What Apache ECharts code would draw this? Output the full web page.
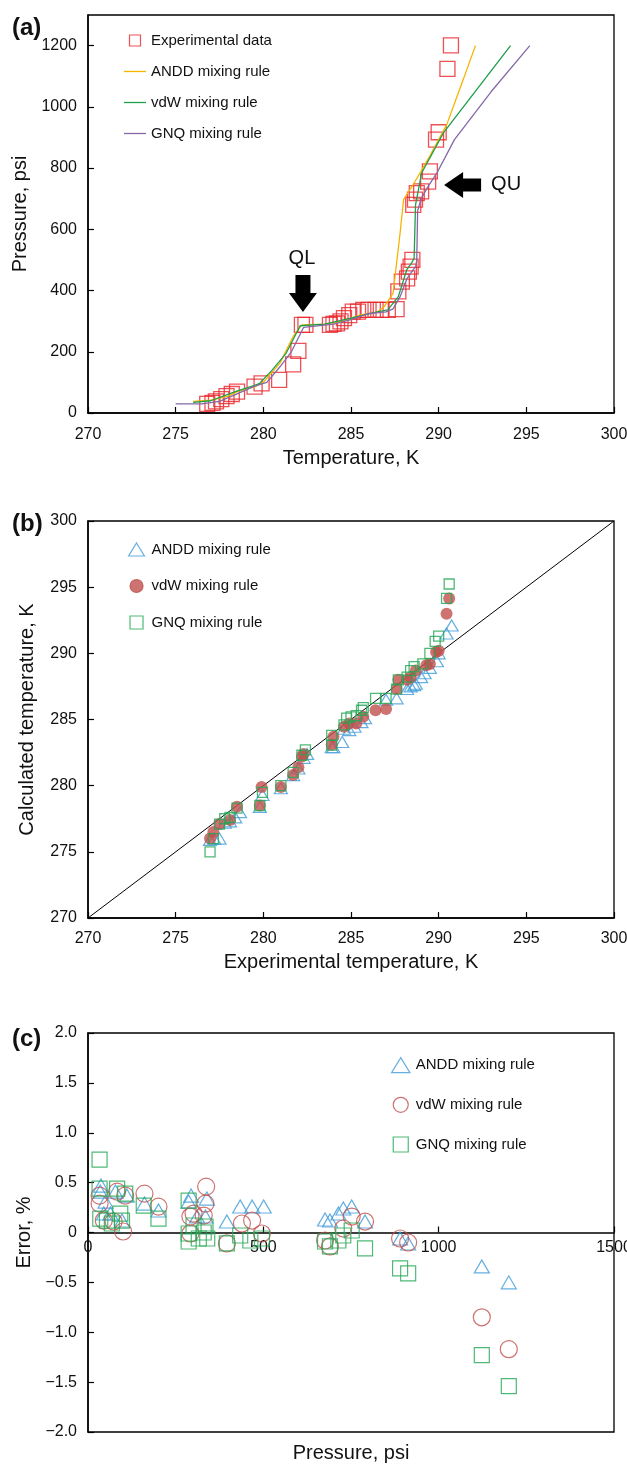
<!DOCTYPE html>
<html><head><meta charset="utf-8">
<script src="https://cdn.jsdelivr.net/npm/echarts@6/dist/echarts.min.js"></script>
<style>html,body{margin:0;padding:0;background:#fff;}.c{position:absolute;left:0;width:627px;}</style>
</head><body>
<div id="pa" class="c" style="top:0;height:470px"></div>
<div id="pb" class="c" style="top:470px;height:530px"></div>
<div id="pc" class="c" style="top:1000px;height:464px"></div>
<script>
// ---------- Panel (a): P-T equilibrium ----------
var expT = [276.8,277.1,277.3,277.6,277.9,278.2,278.5,279.5,279.9,280.9,281.7,282.0,282.2,282.4,283.8,284.0,284.2,284.4,284.6,284.9,285.1,285.4,285.7,286.0,286.4,286.7,287.1,287.6,287.7,287.9,288.2,288.3,288.4,288.5,288.55,288.65,288.75,289.0,289.4,289.5,289.85,290.0,290.5,290.7];
var expP = [30,33,38,45,55,62,70,86,97,108,159,203,288,288,288,291,293,299,310,320,331,331,337,337,337,337,337,339,397,429,440,462,478,500,680,697,718,724,756,789,893,917,1124,1201];
var anddT = [276,277,278,278.5,279.5,280,280.95,281.7,282.2,283.5,284.5,285.5,286.5,286.9,287.4,287.8,288.0,288.65,289.5,290.46,291.4,292.1];
var anddP = [38,42,55,70,85,100,163,250,288,290,300,320,330,348,391,588,697,756,840,942,1089,1200];
var vdwT = [276,277,278.4,279.5,279.8,280.5,281.3,282.1,283.5,285,286.5,287.1,287.7,288.18,288.46,288.6,288.68,289.03,290.27,294.1];
var vdwP = [35,40,70,90,97,140,195,285,290,310,330,337,380,468,490,505,680,784,915,1200];
var gnqT = [275,276.5,277.5,278.4,279.5,280.2,280.95,281.6,282.3,284,285,286,287,287.4,287.8,288.2,288.7,288.75,288.8,289.0,289.4,289.9,290.9,293,295.2];
var gnqP = [30,30,38,60,88,100,151,200,280,290,305,325,330,340,380,440,480,500,660,700,740,784,893,1050,1200];

// ---------- Panel (b): calculated vs experimental temperature ----------
var anddB = [[276.96,275.9],[277.2,276.0],[277.5,276.0],[277.8,277.2],[278.1,277.3],[278.4,277.6],[278.67,278.0],[279.8,278.4],[279.95,279.3],[281.0,279.8],[281.7,280.8],[282.0,281.3],[282.3,282.1],[282.5,282.4],[283.9,282.9],[284.0,282.9],[284.5,283.3],[284.6,284.3],[284.9,284.2],[285.2,284.45],[285.6,284.8],[285.8,285.1],[287.0,286.5],[287.6,286.6],[288.2,287.3],[288.4,287.5],[288.6,287.6],[288.7,287.7],[289.0,288.2],[289.2,288.5],[289.5,288.9],[289.9,289.4],[290.0,290.0],[290.45,291.5],[290.74,292.1]];
var vdwB = [[276.96,276.0],[277.15,276.5],[277.5,277.1],[278.1,277.4],[278.5,278.4],[279.8,278.5],[279.9,279.9],[281.0,279.9],[281.7,280.8],[282.0,281.4],[282.2,282.2],[282.3,282.4],[283.9,283.1],[284.0,283.7],[284.6,284.45],[284.9,284.7],[285.3,284.7],[285.7,285.2],[286.4,285.7],[287.0,285.8],[287.6,287.3],[287.7,288.0],[288.2,288.0],[288.4,288.2],[288.7,288.7],[289.3,289.1],[289.5,289.2],[289.85,290.1],[290.0,290.2],[290.45,293.0],[290.6,294.15]];
var gnqB = [[276.96,275.0],[277.15,276.0],[277.5,277.1],[277.8,277.5],[278.1,277.6],[278.5,278.3],[279.8,278.5],[279.95,279.5],[281.0,280.0],[281.7,281.0],[282.2,282.3],[282.4,282.7],[283.9,283.06],[283.9,283.8],[284.6,284.6],[284.75,285.1],[285.0,285.2],[285.3,285.3],[285.6,285.7],[285.7,285.9],[286.4,286.6],[287.0,286.6],[287.6,287.3],[287.7,288.0],[288.2,288.2],[288.4,288.7],[288.6,289.0],[289.1,289.2],[289.5,290.0],[289.8,290.9],[290.0,291.3],[290.45,294.15],[290.6,295.24]];
var diagLine = [[270,270],[300,300]];

// ---------- Panel (c): error vs pressure ----------
var anddC = [[37,0.47],[35,0.41],[78,0.41],[111,0.37],[50,0.31],[45,0.19],[64,0.19],[97,0.12],[161,0.29],[201,0.22],[294,0.37],[287,0.31],[311,0.16],[339,0.34],[335,0.16],[396,0.11],[434,0.26],[468,0.26],[501,0.26],[676,0.13],[690,0.12],[714,0.19],[728,0.24],[752,0.26],[790,0.11],[890,-0.06],[913,-0.11],[1123,-0.34],[1200,-0.50]];
var vdwC = [[33,0.37],[33,0.29],[83,0.41],[106,0.37],[45,0.12],[73,0.11],[100,0.01],[161,0.39],[201,0.26],[292,0.16],[301,0.19],[292,-0.01],[337,0.46],[335,0.29],[330,0.17],[396,-0.11],[439,0.09],[468,0.12],[496,-0.01],[676,-0.08],[690,-0.14],[728,0.04],[752,0.16],[790,0.11],[890,-0.06],[913,-0.10],[1123,-0.85],[1200,-1.17]];
var gnqC = [[33,0.73],[33,0.44],[83,0.44],[106,0.39],[35,0.14],[54,0.12],[68,0.09],[92,0.19],[97,0.12],[159,0.27],[201,0.14],[287,0.32],[287,-0.01],[287,-0.09],[301,0.07],[316,-0.06],[330,0.0],[335,0.06],[340,-0.06],[396,-0.11],[434,-0.03],[463,-0.08],[496,-0.06],[676,-0.09],[690,-0.14],[714,-0.08],[728,-0.03],[752,0.02],[790,-0.16],[890,-0.36],[913,-0.41],[1123,-1.23],[1200,-1.54]];

var tempTicks = {min:270, max:300, interval:5};
var presTicksA = {min:0, max:1300, interval:200};
var presTicksC = {min:0, max:1500, interval:500};
var errTicks = {min:-2, max:2, interval:0.5};

var FONT = "'Liberation Sans', Arial, Helvetica, sans-serif";
var C_RED = '#E8262B', C_ORANGE = '#F5B400', C_GREEN = '#1F9E4B', C_PURPLE = '#8468A8';
var C_BLUE = '#3E9BD8', C_BROWN = '#C0504D', C_GREEN2 = '#22A854';

var ICON_SQ = 'path://M0,0L10,0L10,10L0,10Z';
var ICON_TRI = 'path://M5,0L10,8.2L0,8.2Z';
var ICON_CIR = 'path://M0,5a5,5 0 1,0 10,0a5,5 0 1,0 -10,0Z';
var ICON_LINE = 'path://M0,0L22,0L22,1.3L0,1.3Z';

function zip(a, b) { return a.map(function (v, i) { return [v, b[i]]; }); }
function plain(v) { return String(v); }

function axis(ext, extra) {
  var o = {
    type: 'value', min: ext.min, max: ext.max, interval: ext.interval,
    axisLine: {show: true, onZero: false, lineStyle: {color: '#000', width: 1.5}},
    axisTick: {show: true, inside: true, length: 6, lineStyle: {color: '#000', width: 1.2}},
    axisLabel: {color: '#111', fontSize: 16, fontFamily: FONT, margin: 11, formatter: plain, hideOverlap: false},
    splitLine: {show: false},
    nameLocation: 'middle',
    nameTextStyle: {color: '#111', fontSize: 20, fontFamily: FONT}
  };
  for (var k in extra) {
    if (extra[k] && typeof extra[k] === 'object' && !Array.isArray(extra[k]) && o[k] && typeof o[k] === 'object') {
      o[k] = Object.assign({}, o[k], extra[k]);
    } else o[k] = extra[k];
  }
  return o;
}
function grid(top, height) {
  return {left: 88, top: top, width: 526, height: height, show: true, borderColor: '#000', borderWidth: 1.3,
          backgroundColor: 'transparent', containLabel: false, outerBoundsMode: 'none'};
}
function panelLabel(txt, y) {
  return {type: 'text', left: 12, top: y, style: {text: txt, fontSize: 24, fontWeight: 'bold', fontFamily: FONT, fill: '#111'}};
}
function hollow(color, w) { return {color: 'rgba(0,0,0,0)', borderColor: color, borderWidth: w || 1.3}; }
function legendBase(extra) {
  return Object.assign({
    orient: 'vertical', symbolKeepAspect: true,
    textStyle: {fontSize: 15, fontFamily: FONT, color: '#111'},
    itemStyle: {borderWidth: 1.2}
  }, extra);
}

// ---------- Chart A ----------
var chA = echarts.init(document.getElementById('pa'), null, {renderer: 'canvas'});
chA.setOption({
  animation: false,
  grid: grid(15, 398),
  xAxis: axis(tempTicks, {name: 'Temperature, K', nameGap: 35, axisLabel: {margin: 14}}),
  yAxis: axis(presTicksA, {name: 'Pressure, psi', nameGap: 48, axisLabel: {showMaxLabel: false}}),
  legend: legendBase({
    left: 119, top: 28, itemWidth: 22, itemHeight: 11, itemGap: 16,
    data: [
      {name: 'Experimental data', icon: ICON_SQ},
      {name: 'ANDD mixing rule', icon: ICON_LINE},
      {name: 'vdW mixing rule', icon: ICON_LINE},
      {name: 'GNQ mixing rule', icon: ICON_LINE}
    ]
  }),
  series: [
    {name: 'Experimental data', type: 'scatter', symbol: 'rect', symbolSize: 15, itemStyle: hollow(C_RED, 1.3), data: zip(expT, expP), z: 2},
    {name: 'ANDD mixing rule', type: 'line', symbol: 'none', showSymbol: false, color: C_ORANGE, itemStyle: {color: C_ORANGE}, lineStyle: {color: C_ORANGE, width: 1.3}, data: zip(anddT, anddP), z: 3},
    {name: 'vdW mixing rule', type: 'line', symbol: 'none', showSymbol: false, color: C_GREEN, itemStyle: {color: C_GREEN}, lineStyle: {color: C_GREEN, width: 1.3}, data: zip(vdwT, vdwP), z: 3},
    {name: 'GNQ mixing rule', type: 'line', symbol: 'none', showSymbol: false, color: C_PURPLE, itemStyle: {color: C_PURPLE}, lineStyle: {color: C_PURPLE, width: 1.3}, data: zip(gnqT, gnqP), z: 3}
  ]
});
// arrows QL / QU anchored at data coordinates
var qlTip = chA.convertToPixel({gridIndex: 0}, [282.26, 330]);
var quTip = chA.convertToPixel({gridIndex: 0}, [290.31, 745]);
var tx = qlTip[0], ty = qlTip[1], ux = quTip[0], uy = quTip[1];
chA.setOption({
  graphic: [
    panelLabel('(a)', 16),
    {type: 'polygon', shape: {points: [[tx-7.5,ty-37],[tx+7.5,ty-37],[tx+7.5,ty-19],[tx+14,ty-19],[tx,ty],[tx-14,ty-19],[tx-7.5,ty-19]]}, style: {fill: '#000'}, z: 10},
    {type: 'text', x: tx - 1, y: ty - 53, style: {text: 'QL', fontSize: 20, fontFamily: FONT, fill: '#111', align: 'center', verticalAlign: 'middle'}, z: 10},
    {type: 'polygon', shape: {points: [[ux,uy],[ux+19,uy-13],[ux+19,uy-6.5],[ux+37,uy-6.5],[ux+37,uy+6.5],[ux+19,uy+6.5],[ux+19,uy+13]]}, style: {fill: '#000'}, z: 10},
    {type: 'text', x: ux + 62, y: uy, style: {text: 'QU', fontSize: 20, fontFamily: FONT, fill: '#111', align: 'center', verticalAlign: 'middle'}, z: 10}
  ]
});

// ---------- Chart B ----------
var chB = echarts.init(document.getElementById('pb'), null, {renderer: 'canvas'});
chB.setOption({
  animation: false,
  grid: grid(51, 397),
  xAxis: axis(tempTicks, {name: 'Experimental temperature, K', nameGap: 34, axisLabel: {margin: 13}}),
  yAxis: axis(tempTicks, {name: 'Calculated temperature, K', nameGap: 51}),
  legend: legendBase({
    left: 123, top: 67, itemWidth: 20, itemHeight: 13, itemGap: 21.5,
    data: [
      {name: 'ANDD mixing rule', icon: ICON_TRI},
      {name: 'vdW mixing rule', icon: ICON_CIR},
      {name: 'GNQ mixing rule', icon: ICON_SQ}
    ]
  }),
  graphic: [panelLabel('(b)', 42)],
  series: [
    {name: 'diag', type: 'line', symbol: 'none', silent: true, lineStyle: {color: '#000', width: 1}, data: diagLine, z: 1},
    {name: 'ANDD mixing rule', type: 'scatter', symbol: 'triangle', symbolSize: [13, 11], itemStyle: hollow(C_BLUE, 1.2), data: anddB, z: 2},
    {name: 'vdW mixing rule', type: 'scatter', symbol: 'circle', symbolSize: 12, itemStyle: {color: C_BROWN, borderColor: C_BROWN, borderWidth: 0}, data: vdwB, z: 3},
    {name: 'GNQ mixing rule', type: 'scatter', symbol: 'rect', symbolSize: 10, itemStyle: hollow(C_GREEN2, 1.3), data: gnqB, z: 4}
  ]
});

// ---------- Chart C ----------
var chC = echarts.init(document.getElementById('pc'), null, {renderer: 'canvas'});
chC.setOption({
  animation: false,
  grid: grid(33, 399),
  xAxis: axis(presTicksC, {axisLabel: {margin: 7}}),
  yAxis: axis(errTicks, {name: 'Error, %', nameGap: 52, axisLabel: {formatter: function (v) { return v === 0 ? '0' : v.toFixed(1).replace('-', '\u2212'); }}}),
  legend: legendBase({
    left: 386, top: 52, itemWidth: 20, itemHeight: 15, itemGap: 23.5,
    data: [
      {name: 'ANDD mixing rule', icon: ICON_TRI},
      {name: 'vdW mixing rule', icon: ICON_CIR},
      {name: 'GNQ mixing rule', icon: ICON_SQ}
    ]
  }),
  graphic: [
    panelLabel('(c)', 27),
    {type: 'text', x: 351, y: 453, style: {text: 'Pressure, psi', fontSize: 20, fontFamily: FONT, fill: '#111', align: 'center', verticalAlign: 'middle'}}
  ],
  series: [
    {name: 'ANDD mixing rule', type: 'scatter', symbol: 'triangle', symbolSize: [15, 13], itemStyle: hollow(C_BLUE, 1.2), data: anddC, z: 2},
    {name: 'vdW mixing rule', type: 'scatter', symbol: 'circle', symbolSize: 17, itemStyle: hollow(C_BROWN, 1.2), data: vdwC, z: 3},
    {name: 'GNQ mixing rule', type: 'scatter', symbol: 'rect', symbolSize: 15, itemStyle: hollow(C_GREEN2, 1.2), data: gnqC, z: 4}
  ]
});
// move the pressure axis to the zero-error line (positions from the library's own scale)
var zeroY = chC.convertToPixel({yAxisIndex: 0}, 0);
var botY = chC.convertToPixel({yAxisIndex: 0}, errTicks.min);
chC.setOption({xAxis: {offset: zeroY - botY}});
</script>
</body></html>
